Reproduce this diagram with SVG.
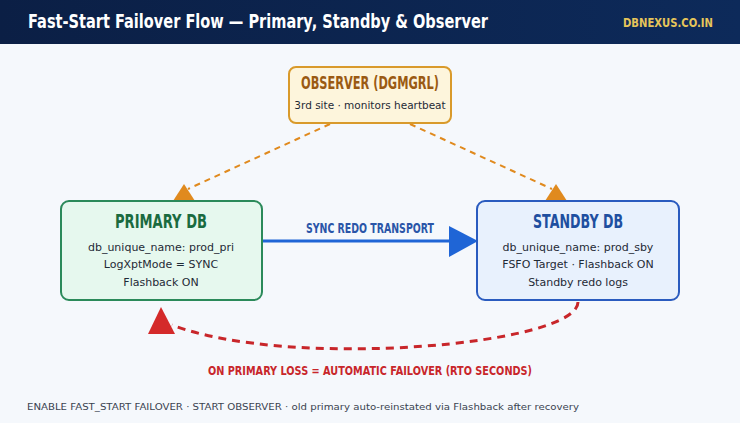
<svg xmlns="http://www.w3.org/2000/svg" width="740" height="423" viewBox="0 0 740 423">
<defs>
<linearGradient id="hdr" x1="0" y1="0" x2="1" y2="0">
<stop offset="0" stop-color="#0b1f45"/>
<stop offset="1" stop-color="#0d2a5a"/>
</linearGradient>
<style>
.cond{font-family:"DejaVu Sans","Liberation Sans",sans-serif;font-weight:bold;}
.body{font-family:"DejaVu Sans","Liberation Sans",sans-serif;font-size:11px;fill:#1f2a36;text-anchor:middle;}
.box{stroke-width:2;}
</style>
</defs>
<rect width="740" height="423" fill="#f5f8fc"/>
<rect width="740" height="44" fill="url(#hdr)"/>
<text x="28" y="28" class="cond" font-size="20" fill="#ffffff" textLength="460" lengthAdjust="spacingAndGlyphs">Fast-Start Failover Flow — Primary, Standby &amp; Observer</text>
<text x="623" y="27" class="cond" font-size="13" fill="#e6c55a" font-weight="normal" textLength="90" lengthAdjust="spacingAndGlyphs">DBNEXUS.CO.IN</text>

<g id="connectors">
<line x1="330" y1="124" x2="188" y2="189" stroke="#e08a1e" stroke-width="2" stroke-dasharray="6,5"/>
<polygon points="184,184 173,201 195,201" fill="#e08a1e"/>
<line x1="410" y1="124" x2="552" y2="189" stroke="#e08a1e" stroke-width="2" stroke-dasharray="6,5"/>
<polygon points="556,184 545,201 567,201" fill="#e08a1e"/>
<line x1="263" y1="241" x2="452" y2="241" stroke="#1f65d6" stroke-width="3"/>
<polygon points="449,226 478,241 449,257" fill="#1f65d6"/>
<text x="306" y="233" class="cond" font-size="14" fill="#2a55a8" textLength="128" lengthAdjust="spacingAndGlyphs">SYNC REDO TRANSPORT</text>
<path d="M 578 302 C 578 345, 290 370, 172 325" fill="none" stroke="#c8262a" stroke-width="3" stroke-dasharray="8,6"/>
<polygon points="161,307 148,334 175,334" fill="#d42a2a"/>
<text x="208" y="375" class="cond" font-size="13" fill="#c8262a" textLength="324" lengthAdjust="spacingAndGlyphs">ON PRIMARY LOSS = AUTOMATIC FAILOVER (RTO SECONDS)</text>
</g>

<g id="observer">
<rect x="289" y="67" width="162" height="56" rx="7" fill="#fdf5dc" stroke="#d99a2b" class="box"/>
<text x="301" y="89" class="cond" font-size="17" fill="#9a5a12" textLength="138" lengthAdjust="spacingAndGlyphs">OBSERVER (DGMGRL)</text>
<text x="370" y="109" class="body" style="font-size:10.5px" fill="#3a2a1a">3rd site · monitors heartbeat</text>
</g>

<g id="primary">
<rect x="61" y="201" width="201" height="99" rx="8" fill="#e6f8ee" stroke="#2b8a5a" class="box"/>
<text x="115" y="228" class="cond" font-size="19" fill="#1a6b3f" textLength="92" lengthAdjust="spacingAndGlyphs">PRIMARY DB</text>
<text x="161" y="251" class="body">db_unique_name: prod_pri</text>
<text x="161" y="268" class="body">LogXptMode = SYNC</text>
<text x="161" y="286" class="body">Flashback ON</text>
</g>

<g id="standby">
<rect x="477" y="201" width="202" height="99" rx="8" fill="#e8f1fd" stroke="#2a5bbf" class="box"/>
<text x="533" y="228" class="cond" font-size="19" fill="#1e4fa0" textLength="90" lengthAdjust="spacingAndGlyphs">STANDBY DB</text>
<text x="578" y="251" class="body">db_unique_name: prod_sby</text>
<text x="578" y="268" class="body">FSFO Target · Flashback ON</text>
<text x="578" y="286" class="body">Standby redo logs</text>
</g>

<text x="27" y="410" font-family="DejaVu Sans,Liberation Sans,sans-serif" font-size="9.5" fill="#3a4350" textLength="552" lengthAdjust="spacingAndGlyphs">ENABLE FAST_START FAILOVER · START OBSERVER · old primary auto-reinstated via Flashback after recovery</text>
</svg>
